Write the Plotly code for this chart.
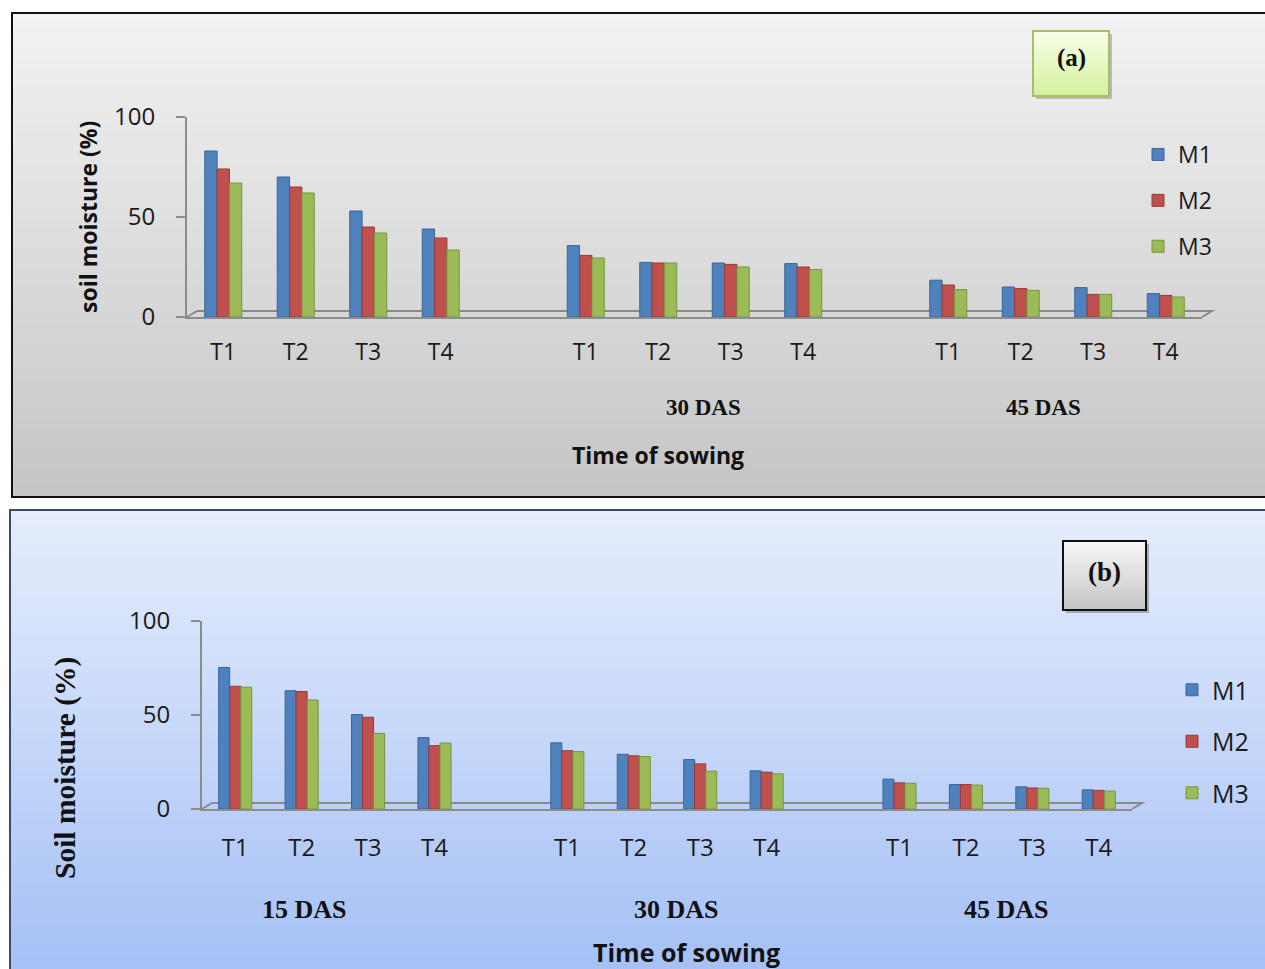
import plotly.graph_objects as go

W, H = 1265, 969

# ---------------- data ----------------
treatments = ["T1", "T2", "T3", "T4"]
stages = ["15 DAS", "30 DAS", "45 DAS"]
series = ["M1", "M2", "M3"]
colors = ["#4F81BD", "#C0504D", "#9BBB59"]
edge_colors = ["#3A6699", "#9A3A37", "#78943F"]

# panel (a): values in order 15 DAS T1..T4, 30 DAS T1..T4, 45 DAS T1..T4
a_M1 = [83, 70, 53, 44, 35.7, 27.3, 27, 26.7, 18.4, 15, 14.7, 11.7]
a_M2 = [74, 65, 45, 39.5, 30.8, 27, 26.3, 25, 16, 14.2, 11.3, 10.8]
a_M3 = [67, 62, 42, 33.5, 29.5, 27, 25, 23.7, 13.7, 13.3, 11.3, 10]

# panel (b)
b_M1 = [75.3, 62.9, 50.2, 38, 35.2, 29.1, 26.3, 20.3, 15.9, 13, 11.8, 10.2]
b_M2 = [65.3, 62.5, 48.8, 33.7, 31, 28.3, 24, 19.6, 13.9, 13, 11.2, 9.9]
b_M3 = [64.8, 58, 40.2, 35.1, 30.5, 27.9, 20.1, 18.7, 13.7, 12.7, 11, 9.5]

y_ticks = [0, 50, 100]

# category positions: one empty slot between stages
positions = [s * (len(treatments) + 1) + t for s in range(len(stages)) for t in range(len(treatments))]
tick_text = [treatments[t] for s in range(len(stages)) for t in range(len(treatments))]


def px(x, y):
    return x / W, 1 - y / H


def hex2rgb(h):
    h = h.lstrip("#")
    return tuple(int(h[i:i + 2], 16) for i in (0, 2, 4))


def gradient(x0, y0, x1, y1, ctop, cbot, n=60):
    out = []
    r0, g0, b0 = hex2rgb(ctop)
    r1, g1, b1 = hex2rgb(cbot)
    for i in range(n):
        f = i / (n - 1)
        col = "rgb(%d,%d,%d)" % (r0 + (r1 - r0) * f, g0 + (g1 - g0) * f, b0 + (b1 - b0) * f)
        ya = y0 + (y1 - y0) * i / n
        yb = y0 + (y1 - y0) * (i + 1) / n + 0.8
        xa, pa = px(x0, ya)
        xb, pb = px(x1, min(yb, y1))
        out.append(dict(type="rect", xref="paper", yref="paper", x0=xa, x1=xb, y0=pb, y1=pa,
                        line=dict(width=0), fillcolor=col, layer="below"))
    return out


def rect(x0, y0, x1, y1, color, width, fill=None, opacity=1):
    xa, ya = px(x0, y0)
    xb, yb = px(x1, y1)
    d = dict(type="rect", xref="paper", yref="paper", x0=xa, x1=xb, y0=yb, y1=ya,
             line=dict(color=color, width=width), layer="below", opacity=opacity)
    if fill:
        d["fillcolor"] = fill
    return d


def floor(xl, yf, xr, dx, dy, color):
    pts = [(xl, yf), (xl + dx, yf - dy), (xr + dx, yf - dy), (xr, yf)]
    path = "M " + " L ".join("%f,%f" % px(x, y) for x, y in pts)
    return dict(type="path", xref="paper", yref="paper", path=path,
                line=dict(color=color, width=2), layer="below")


shapes = []
# panel backgrounds
shapes += gradient(12, 13, 1266, 497, "#F3F3F3", "#C6C6C6", 70)
shapes.append(rect(12, 13, 1268, 497, "#111111", 2))
shapes += gradient(10, 510, 1266, 970, "#E6EEFD", "#A6C1F6", 70)
shapes.append(rect(10, 510, 1268, 975, "#3B4A66", 2))
# floors
shapes.append(floor(187, 317, 1202, 10, 6, "#8A8A8A"))
shapes.append(floor(202, 809, 1132, 10, 6, "#8A8A8A"))
# label boxes
shapes.append(rect(1036, 34, 1112, 99, "rgba(0,0,0,0)", 0, "rgba(90,90,90,0.35)"))
shapes += gradient(1033, 31, 1109, 96, "#F8FFE6", "#D6F2A0", 20)
shapes.append(rect(1033, 31, 1109, 96, "#A4BE6A", 2))
shapes.append(rect(1066, 544, 1149, 613, "rgba(0,0,0,0)", 0, "rgba(60,60,80,0.35)"))
shapes += gradient(1063, 541, 1146, 610, "#F7F7F7", "#C6C6C6", 20)
shapes.append(rect(1063, 541, 1146, 610, "#111111", 2))

fig = go.Figure()

bar_w = 0.17
for k, (name, vals) in enumerate(zip(series, [a_M1, a_M2, a_M3])):
    fig.add_trace(go.Bar(
        x=positions, y=vals, name=name, xaxis="x", yaxis="y",
        width=bar_w, offset=(k - 1.5) * bar_w,
        marker=dict(color=colors[k], line=dict(color=edge_colors[k], width=1)),
        legend="legend", legendgroup="a" + name,
    ))
bar_w2 = 0.166
for k, (name, vals) in enumerate(zip(series, [b_M1, b_M2, b_M3])):
    fig.add_trace(go.Bar(
        x=positions, y=vals, name=name, xaxis="x2", yaxis="y2",
        width=bar_w2, offset=(k - 1.5) * bar_w2,
        marker=dict(color=colors[k], line=dict(color=edge_colors[k], width=1)),
        legend="legend2", legendgroup="b" + name,
    ))

sans = "Open Sans"
serif = "Liberation Serif"
axis_gray = "#8C8C8C"


def xaxis_cfg(domain, anchor, size, standoff):
    return dict(domain=domain, anchor=anchor, range=[-0.5, 13.5], tickmode="array",
                tickvals=positions, ticktext=tick_text, showline=True, linecolor=axis_gray,
                linewidth=2, showgrid=False, zeroline=False, ticks="", fixedrange=True,
                automargin=False,
                tickfont=dict(family=sans, size=size, color="#1A1A1A"), ticklabelstandoff=standoff)


def yaxis_cfg(domain, anchor, size, standoff):
    return dict(domain=domain, anchor=anchor, range=[0, 100], tickmode="array", tickvals=y_ticks,
                showline=True, linecolor=axis_gray, linewidth=2, showgrid=False, zeroline=False,
                ticks="outside", ticklen=9, tickwidth=2, tickcolor=axis_gray, automargin=False,
                tickfont=dict(family=sans, size=size, color="#1A1A1A"), ticklabelstandoff=standoff)


annotations = []


def ann(text, x, y, family, size, angle=0):
    xa, ya = px(x, y)
    annotations.append(dict(text=text, x=xa, y=ya, xref="paper", yref="paper", showarrow=False,
                            xanchor="center", yanchor="middle", textangle=angle,
                            font=dict(family=family, size=size, color="#111111")))


# panel (a)
ann("<b>30 DAS</b>", 703, 407, serif, 23)
ann("<b>45 DAS</b>", 1043, 407, serif, 23)
ann("<b>Time of sowing</b>", 658, 455, sans, 23)
ann("<b>soil moisture (%)</b>", 88, 217, sans, 23, -90)
ann("<b>(a)</b>", 1071, 58, serif, 25)
# panel (b)
ann("<b>15 DAS</b>", 304, 909, serif, 26)
ann("<b>30 DAS</b>", 676, 909, serif, 26)
ann("<b>45 DAS</b>", 1006, 909, serif, 26)
ann("<b>Time of sowing</b>", 686, 952, sans, 25)
ann("<b>Soil moisture (%)</b>", 65, 768, serif, 29.5, -90)
ann("<b>(b)</b>", 1104, 572, serif, 27)

fig.update_layout(
    width=W, height=H, margin=dict(l=0, r=0, t=0, b=0, autoexpand=False),
    paper_bgcolor="white", plot_bgcolor="rgba(0,0,0,0)",
    barmode="overlay", showlegend=True,
    xaxis=xaxis_cfg([187 / W, 1202 / W], "y", 23, 13),
    yaxis=yaxis_cfg([1 - 317 / H, 1 - 117 / H], "x", 24, 16),
    xaxis2=xaxis_cfg([202 / W, 1132 / W], "y2", 24, 16),
    yaxis2=yaxis_cfg([1 - 809 / H, 1 - 621 / H], "x2", 24, 16),
    legend=dict(x=1138 / W, y=1 - 133 / H, xanchor="left", yanchor="top",
                bgcolor="rgba(0,0,0,0)", font=dict(family=sans, size=23, color="#1A1A1A"),
                tracegroupgap=13, traceorder="grouped"),
    legend2=dict(x=1172 / W, y=1 - 667 / H, xanchor="left", yanchor="top",
                 bgcolor="rgba(0,0,0,0)", font=dict(family=sans, size=25, color="#1A1A1A"),
                 tracegroupgap=16, traceorder="grouped"),
    shapes=shapes, annotations=annotations,
)

fig.write_html("out.html", config={"displayModeBar": False},
               post_script="document.body.style.margin='0px';")
